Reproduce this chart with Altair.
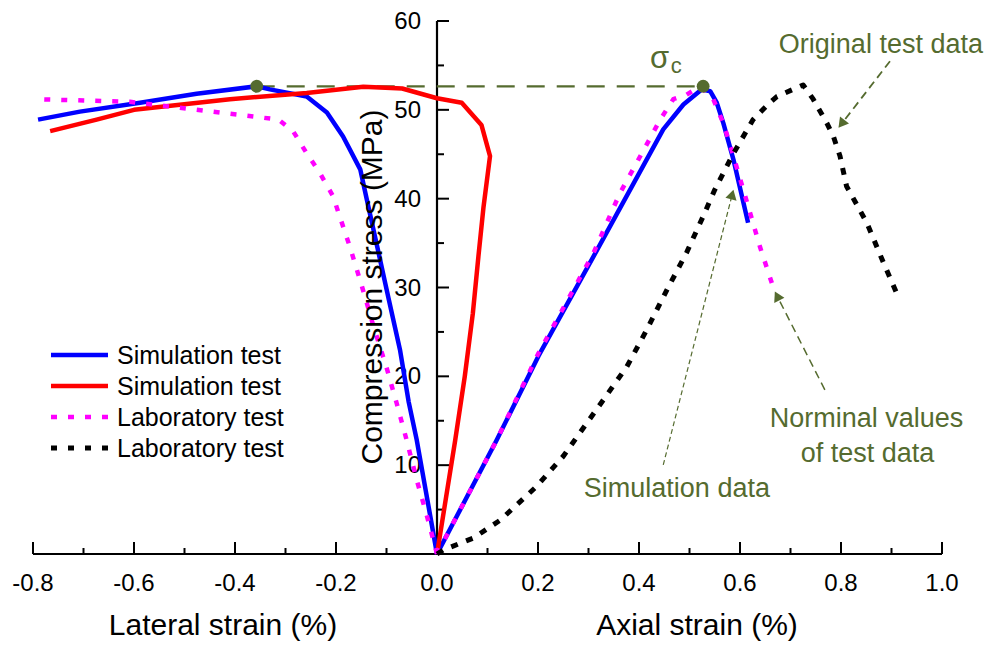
import math
import altair as alt
import pandas as pd

FONT = "Liberation Sans"
OLIVE = "#556B2F"

# ---------------- data ----------------
x_ticks_major = [-0.8, -0.6, -0.4, -0.2, 0.0, 0.2, 0.4, 0.6, 0.8, 1.0]
x_ticks_minor = [-0.7, -0.5, -0.3, -0.1, 0.1, 0.3, 0.5, 0.7, 0.9]
y_ticks_major = [10, 20, 30, 40, 50, 60]
y_ticks_minor = [5, 15, 25, 35, 45, 55]
x_tick_labels = [f"{v:.1f}" for v in x_ticks_major]
y_tick_labels = [str(v) for v in y_ticks_major]

# Simulation test (blue) - lateral strain
blue_lat_x = [0.0, -0.040, -0.056, -0.073, -0.096, -0.118, -0.139, -0.152, -0.186, -0.218, -0.258, -0.331, -0.357, -0.476, -0.588, -0.707, -0.790]
blue_lat_y = [0.0, 12.8, 17.1, 22.9, 28.8, 34.5, 39.9, 43.3, 47.0, 49.7, 51.5, 52.3, 52.65, 51.8, 50.8, 49.8, 48.9]

# Simulation test (red) - lateral strain
red_lat_x = [0.0, 0.036, 0.055, 0.071, 0.082, 0.092, 0.105, 0.088, 0.049, 0.0, -0.069, -0.146, -0.258, -0.410, -0.600, -0.674, -0.766]
red_lat_y = [0.0, 12.8, 20.0, 27.1, 33.5, 39.0, 44.8, 48.3, 50.8, 51.3, 52.4, 52.6, 51.9, 51.2, 50.0, 48.9, 47.6]

# Laboratory test (magenta) - lateral strain
mag_lat_x = [0.0, -0.020, -0.040, -0.060, -0.080, -0.100, -0.125, -0.148, -0.172, -0.195, -0.206, -0.232, -0.258, -0.285, -0.314, -0.357, -0.476, -0.608, -0.793]
mag_lat_y = [0.0, 4.3, 8.3, 12.8, 17.0, 21.0, 25.5, 30.0, 34.5, 38.4, 40.3, 42.9, 45.1, 47.6, 48.9, 49.2, 50.0, 50.9, 51.2]

# Simulation test (blue) - axial strain
blue_ax_x = [0.0, 0.118, 0.201, 0.310, 0.448, 0.488, 0.524, 0.541, 0.554, 0.567, 0.587, 0.616]
blue_ax_y = [0.0, 12.8, 22.3, 33.5, 47.8, 50.6, 52.3, 52.1, 50.8, 48.5, 44.4, 37.3]

# Laboratory test nominal (magenta) - axial strain
mag_ax_x = [0.0, 0.118, 0.200, 0.310, 0.362, 0.422, 0.442, 0.468, 0.494, 0.514, 0.522, 0.547, 0.567, 0.587, 0.620, 0.640, 0.663]
mag_ax_y = [0.0, 12.8, 22.5, 33.9, 40.6, 46.8, 48.9, 51.2, 51.7, 52.4, 52.6, 51.2, 48.5, 44.8, 38.4, 34.5, 30.5]

# Laboratory test original (black) - axial strain
blk_ax_x = [0.0, 0.0125, 0.072, 0.125, 0.197, 0.250, 0.330, 0.376, 0.415, 0.455, 0.494, 0.527, 0.550, 0.587, 0.626, 0.659, 0.673, 0.725, 0.745, 0.772, 0.785, 0.798, 0.811, 0.851, 0.884, 0.910]
blk_ax_y = [0.0, 0.45, 1.8, 3.8, 7.6, 11.0, 17.4, 21.1, 25.2, 29.7, 33.9, 38.0, 41.0, 45.1, 48.9, 50.8, 51.5, 52.8, 51.2, 48.5, 47.0, 44.8, 41.4, 37.3, 32.8, 29.4]

# peak strength sigma_c points
peak_x = [-0.357, 0.527]
peak_y = [52.65, 52.65]

# annotations (data units)
ann_text = ["Original test data", "Simulation data", "Norminal values", "of test data"]
ann_x = [0.879, 0.475, 0.8505, 0.8525]
ann_y = [56.42, 6.46, 14.34, 10.40]

# arrows: start -> tip (data units)
arr_x = [0.897, 0.448, 0.768]
arr_y = [55.47, 10.03, 18.48]
arr_x2 = [0.795, 0.587, 0.669]
arr_y2 = [47.97, 41.01, 29.55]
arr_width = [1.8, 1.2, 1.5]
arr_dash = [[8, 5], [5, 3], [8, 5]]

legend_labels = ["Simulation test", "Simulation test", "Laboratory test", "Laboratory test"]
legend_colors = ["#0000FF", "#FF0000", "#FF00FF", "#000000"]

# ---------------- layout ----------------
W, H = 909, 533
X_DOMAIN = [-0.8, 1.0]
Y_DOMAIN = [0, 60]
PX_X = W / (X_DOMAIN[1] - X_DOMAIN[0])
PX_Y = H / (Y_DOMAIN[1] - Y_DOMAIN[0])

XS = alt.Scale(domain=X_DOMAIN, nice=False, zero=False)
YS = alt.Scale(domain=Y_DOMAIN, nice=False, zero=False)


def X(f="x"):
    return alt.X(f"{f}:Q", scale=XS, axis=None)


def Y(f="y"):
    return alt.Y(f"{f}:Q", scale=YS, axis=None)


layers = []

# axis lines
layers.append(
    alt.Chart(pd.DataFrame({"x": [X_DOMAIN[0]], "x2": [X_DOMAIN[1]], "y": [0]}))
    .mark_rule(color="black", strokeWidth=2.2)
    .encode(x=X(), x2=alt.X2("x2:Q"), y=Y())
)
layers.append(
    alt.Chart(pd.DataFrame({"x": [0], "y": [Y_DOMAIN[0]], "y2": [Y_DOMAIN[1]]}))
    .mark_rule(color="black", strokeWidth=2.2)
    .encode(x=X(), y=Y(), y2=alt.Y2("y2:Q"))
)

# ticks (pointing into the plot)
df_xmaj = pd.DataFrame({"x": x_ticks_major, "y": [0] * len(x_ticks_major), "t": x_tick_labels})
layers.append(
    alt.Chart(df_xmaj).mark_rule(color="black", strokeWidth=2, y2Offset=-12).encode(
        x=X(), y=Y(), y2=alt.Y2("y:Q")
    )
)
df_xmin = pd.DataFrame({"x": x_ticks_minor, "y": [0] * len(x_ticks_minor)})
layers.append(
    alt.Chart(df_xmin).mark_rule(color="black", strokeWidth=2, y2Offset=-6).encode(
        x=X(), y=Y(), y2=alt.Y2("y:Q")
    )
)
df_ymaj = pd.DataFrame({"y": y_ticks_major, "x": [0] * len(y_ticks_major), "t": y_tick_labels})
layers.append(
    alt.Chart(df_ymaj).mark_rule(color="black", strokeWidth=2, x2Offset=12).encode(
        x=X(), x2=alt.X2("x:Q"), y=Y()
    )
)
df_ymin = pd.DataFrame({"y": y_ticks_minor, "x": [0] * len(y_ticks_minor)})
layers.append(
    alt.Chart(df_ymin).mark_rule(color="black", strokeWidth=2, x2Offset=7).encode(
        x=X(), x2=alt.X2("x:Q"), y=Y()
    )
)

# tick labels
layers.append(
    alt.Chart(df_xmaj).mark_text(font=FONT, fontSize=24, color="black", align="center",
                                 baseline="alphabetic", dy=37).encode(x=X(), y=Y(), text="t:N")
)
layers.append(
    alt.Chart(df_ymaj).mark_text(font=FONT, fontSize=24, color="black", align="right",
                                 baseline="middle", dx=-16, dy=1).encode(x=X(), y=Y(), text="t:N")
)


def line_layer(xs, ys, color, width, dash=None):
    df = pd.DataFrame({"x": xs, "y": ys, "i": list(range(len(xs)))})
    kw = dict(color=color, strokeWidth=width, strokeJoin="round")
    if dash:
        kw["strokeDash"] = dash
        kw["strokeCap"] = "butt"
    return alt.Chart(df).mark_line(**kw).encode(x=X(), y=Y(), order="i:Q")


# sigma_c dashed line
df_peak = pd.DataFrame({"x": peak_x, "y": peak_y})
layers.append(
    alt.Chart(pd.DataFrame({"x": [peak_x[0]], "y": [peak_y[0]], "x2": [peak_x[1]]}))
    .mark_rule(color=OLIVE, strokeWidth=2.2, strokeDash=[18, 12])
    .encode(x=X(), x2=alt.X2("x2:Q"), y=Y())
)

layers.append(line_layer(blue_lat_x, blue_lat_y, "#0000FF", 4.5))
layers.append(line_layer(blue_ax_x, blue_ax_y, "#0000FF", 4.5))
layers.append(line_layer(red_lat_x, red_lat_y, "#FF0000", 4.5))
layers.append(line_layer(mag_lat_x, mag_lat_y, "#FF00FF", 4.5, [6, 11]))
layers.append(line_layer(mag_ax_x, mag_ax_y, "#FF00FF", 4.5, [6, 11]))
layers.append(line_layer(blk_ax_x, blk_ax_y, "#000000", 5, [7, 9]))

# peak points
layers.append(
    alt.Chart(df_peak).mark_point(filled=True, color=OLIVE, opacity=1, size=165).encode(x=X(), y=Y())
)

# sigma_c label
layers.append(
    alt.Chart(pd.DataFrame({"x": [0.4406], "y": [54.73], "t": ["σ"]}))
    .mark_text(font=FONT, fontSize=31, color=OLIVE, align="center", baseline="alphabetic")
    .encode(x=X(), y=Y(), text="t:N")
)
layers.append(
    alt.Chart(pd.DataFrame({"x": [0.4628], "y": [54.16], "t": ["c"]}))
    .mark_text(font=FONT, fontSize=22, color=OLIVE, align="left", baseline="alphabetic")
    .encode(x=X(), y=Y(), text="t:N")
)

# annotations text
df_ann = pd.DataFrame({"x": ann_x, "y": ann_y, "t": ann_text})
layers.append(
    alt.Chart(df_ann)
    .mark_text(font=FONT, fontSize=27, color=OLIVE, align="center", baseline="alphabetic")
    .encode(x=X(), y=Y(), text="t:N")
)

# arrows (dashed shaft + triangular head whose tip sits on the arrow end)
HEAD_SIZE = 130
head_h = math.sqrt(3) * (math.sqrt(HEAD_SIZE) / 2) / 2  # half-height of Vega triangle-up, px
for i in range(len(arr_x)):
    dxp = (arr_x2[i] - arr_x[i]) * PX_X
    dyp = -(arr_y2[i] - arr_y[i]) * PX_Y
    ang = math.degrees(math.atan2(dxp, -dyp)) % 360
    L = math.hypot(dxp, dyp)
    cx = arr_x2[i] - (dxp / L) * head_h / PX_X
    cy = arr_y2[i] + (dyp / L) * head_h / PX_Y
    df_a = pd.DataFrame({"x": [arr_x[i]], "y": [arr_y[i]], "x2": [cx], "y2": [cy]})
    layers.append(
        alt.Chart(df_a)
        .mark_rule(color=OLIVE, strokeWidth=arr_width[i], strokeDash=arr_dash[i])
        .encode(x=X(), y=Y(), x2=alt.X2("x2:Q"), y2=alt.Y2("y2:Q"))
    )
    df_h = pd.DataFrame({"x": [cx], "y": [cy]})
    layers.append(
        alt.Chart(df_h)
        .mark_point(shape="triangle-up", filled=True, color=OLIVE, opacity=1,
                    size=HEAD_SIZE, angle=ang)
        .encode(x=X(), y=Y())
    )

# legend (drawn manually, pixel positions inside plot area)
leg_dash = [None, None, [6, 11], [6, 11]]
leg_w = [4.5, 4.5, 4.5, 5]
one = pd.DataFrame({"a": [0]})
for i, lab in enumerate(legend_labels):
    yy = 334 + i * 31
    kw = dict(color=legend_colors[i], strokeWidth=leg_w[i])
    if leg_dash[i]:
        kw["strokeDash"] = leg_dash[i]
        kw["strokeCap"] = "butt"
    layers.append(
        alt.Chart(one).mark_rule(**kw).encode(
            x=alt.value(18), x2=alt.value(75), y=alt.value(yy)
        )
    )
    layers.append(
        alt.Chart(one).mark_text(font=FONT, fontSize=25, color="black", align="left", baseline="alphabetic").encode(
            x=alt.value(84), y=alt.value(yy + 8.5), text=alt.value(lab)
        )
    )

# axis titles
layers.append(
    alt.Chart(one).mark_text(font=FONT, fontSize=30, color="black", align="center", baseline="alphabetic").encode(
        x=alt.value(190), y=alt.value(614), text=alt.value("Lateral strain (%)")
    )
)
layers.append(
    alt.Chart(one).mark_text(font=FONT, fontSize=30, color="black", align="center", baseline="alphabetic").encode(
        x=alt.value(664), y=alt.value(614), text=alt.value("Axial strain (%)")
    )
)
layers.append(
    alt.Chart(one).mark_text(font=FONT, fontSize=30, color="black", align="center", baseline="alphabetic", angle=270).encode(
        x=alt.value(349), y=alt.value(266), text=alt.value("Compression stress (MPa)")
    )
)

chart = (
    alt.layer(*layers)
    .properties(
        width=W, height=H,
        autosize=alt.AutoSizeParams(type="none"),
        padding={"left": 25, "top": 13, "right": 42, "bottom": 92},
        background="white",
    )
    .configure_view(stroke=None)
)

chart.save("out.html", embed_options={"renderer": "svg", "actions": False})
